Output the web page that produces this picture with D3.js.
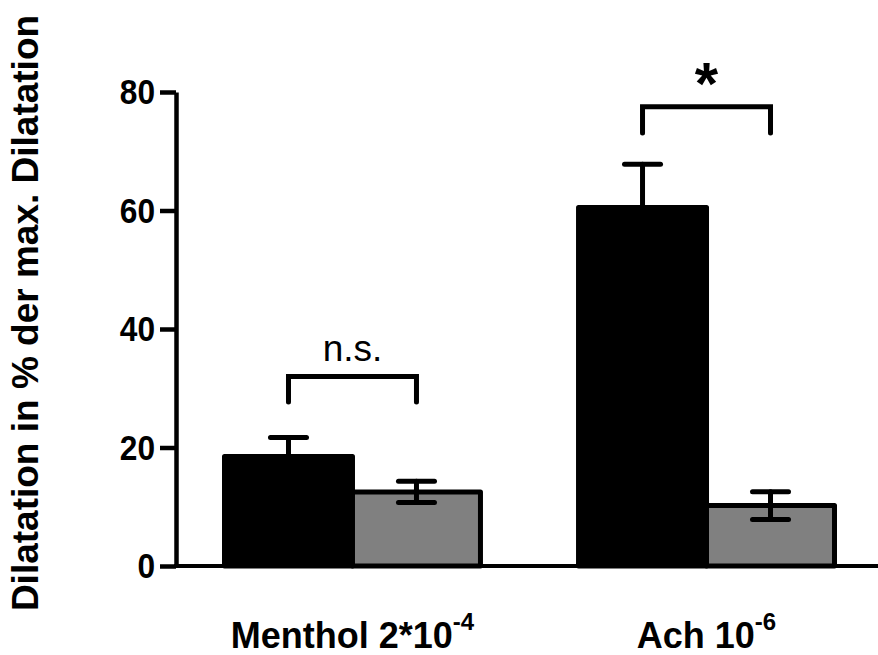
<!DOCTYPE html>
<html>
<head>
<meta charset="utf-8">
<script src="https://cdn.jsdelivr.net/npm/d3@7"></script>
<style>
  html, body { margin: 0; padding: 0; background: #fff; }
  svg { display: block; font-family: "Liberation Sans", Arial, sans-serif; }
</style>
</head>
<body>
<svg id="chart" width="878" height="655"></svg>
<script>
// Groups (stimuli) with their concentration labels
const categories = ["Menthol", "Ach"];
const categoryLabels = [
  { base: "Menthol 2*10", exp: "-4" },
  { base: "Ach 10", exp: "-6" }
];
const series = ["control", "treated"];

// Mean dilatation (% of max.) and SEM per series
const controlMeans = [18.5, 60.5];
const controlErrors = [3.2, 7.3];
const treatedMeans = [12.5, 10.2];
const treatedErrors = [1.8, 2.35];

// Y axis ticks
const yTicks = [0, 20, 40, 60, 80];

// Significance brackets (heights in data units)
const brackets = [
  { group: "Menthol", label: "n.s.", top: 32, foot: 27.7 },
  { group: "Ach", label: "*", top: 77.5, foot: 73.1 }
];

const svg = d3.select("#chart");
const width = 878;

const y = d3.scaleLinear().domain([0, 80]).range([566, 92]);

const x0 = d3.scaleBand()
  .domain(categories)
  .range([176, 883])
  .paddingInner(0.277)
  .paddingOuter(0.137);

const x1 = d3.scaleBand()
  .domain(series)
  .range([0, x0.bandwidth()]);

const fills = { control: "#000000", treated: "#808080" };

const rows = categories.map((c, i) => ({
  category: c,
  values: [
    { key: "control", mean: controlMeans[i], err: controlErrors[i] },
    { key: "treated", mean: treatedMeans[i], err: treatedErrors[i] }
  ]
}));

// Bars
const groups = svg.append("g")
  .selectAll("g")
  .data(rows)
  .join("g")
  .attr("transform", d => `translate(${x0(d.category)},0)`);

groups.selectAll("rect")
  .data(d => d.values)
  .join("rect")
  .attr("x", d => x1(d.key))
  .attr("y", d => y(d.mean))
  .attr("width", x1.bandwidth())
  .attr("height", d => y(0) - y(d.mean))
  .attr("fill", d => fills[d.key])
  .attr("stroke", "#000")
  .attr("stroke-width", 5)
  .attr("stroke-linejoin", "round");

// Error bars
const capHalf = 18;
const eb = groups.selectAll("g.err")
  .data(d => d.values)
  .join("g")
  .attr("class", "err")
  .attr("stroke", "#000")
  .attr("stroke-width", 5)
  .attr("stroke-linecap", "round");

eb.append("line")
  .attr("x1", d => x1(d.key) + x1.bandwidth() / 2)
  .attr("x2", d => x1(d.key) + x1.bandwidth() / 2)
  .attr("y1", d => y(d.mean + d.err))
  .attr("y2", d => y(d.mean - d.err));

eb.selectAll("line.cap")
  .data(d => [d.mean + d.err, d.mean - d.err].map(v => ({ v, key: d.key })))
  .join("line")
  .attr("class", "cap")
  .attr("x1", d => x1(d.key) + x1.bandwidth() / 2 - capHalf)
  .attr("x2", d => x1(d.key) + x1.bandwidth() / 2 + capHalf)
  .attr("y1", d => y(d.v))
  .attr("y2", d => y(d.v));

// Y axis
const yAxis = svg.append("g")
  .attr("transform", "translate(176,0)")
  .call(d3.axisLeft(y).tickValues(yTicks).tickSize(16).tickSizeOuter(0).tickPadding(6));

yAxis.select(".domain").attr("stroke", "#000").attr("stroke-width", 4.5);
yAxis.selectAll(".tick line").attr("stroke", "#000").attr("stroke-width", 4.5);
yAxis.selectAll(".tick text")
  .attr("x", 0)
  .attr("transform", "translate(-21,0) scale(0.88,1)")
  .attr("font-size", 36)
  .attr("font-weight", "bold")
  .attr("fill", "#000")
  .attr("font-family", "'Liberation Sans', Arial, sans-serif");

// X axis baseline
svg.append("line")
  .attr("x1", 174)
  .attr("x2", width)
  .attr("y1", y(0))
  .attr("y2", y(0))
  .attr("stroke", "#000")
  .attr("stroke-width", 4);

// Category labels with superscript exponents
const xl = svg.append("g")
  .selectAll("text")
  .data(categories)
  .join("text")
  .attr("x", d => x0(d) + x0.bandwidth() / 2)
  .attr("y", 648)
  .attr("text-anchor", "middle")
  .attr("font-size", 36)
  .attr("font-weight", "bold")
  .attr("fill", "#000");

xl.append("tspan").text((d, i) => categoryLabels[i].base);
xl.append("tspan")
  .attr("dy", -18)
  .attr("font-size", 24)
  .text((d, i) => categoryLabels[i].exp);

// Y axis title
svg.append("text")
  .attr("transform", "translate(38,313) rotate(-90)")
  .attr("text-anchor", "middle")
  .attr("font-size", 37)
  .attr("font-weight", "bold")
  .attr("fill", "#000")
  .text("Dilatation in % der max. Dilatation");

// Significance brackets
const br = svg.append("g")
  .selectAll("g")
  .data(brackets)
  .join("g");

br.append("path")
  .attr("d", d => {
    const xa = x0(d.group) + x1("control") + x1.bandwidth() / 2;
    const xb = x0(d.group) + x1("treated") + x1.bandwidth() / 2;
    return `M${xa},${y(d.foot)}V${y(d.top)}H${xb}V${y(d.foot)}`;
  })
  .attr("fill", "none")
  .attr("stroke", "#000")
  .attr("stroke-width", 5)
  .attr("stroke-linejoin", "miter")
  .attr("stroke-linecap", "round");

br.append("text")
  .attr("x", d => x0(d.group) + x0.bandwidth() / 2)
  .attr("y", d => d.label === "*" ? y(d.top) - 3 : y(d.top) - 15)
  .attr("text-anchor", "middle")
  .attr("font-size", d => d.label === "*" ? 60 : 37)
  .attr("font-weight", d => d.label === "*" ? "bold" : "normal")
  .attr("fill", "#000")
  .text(d => d.label);
</script>
</body>
</html>
